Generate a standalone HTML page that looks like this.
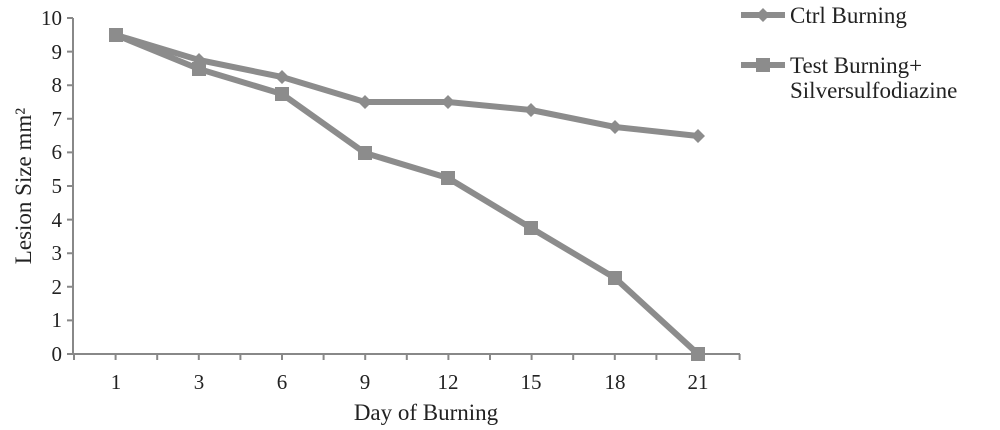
<!DOCTYPE html>
<html><head><style>body{margin:0;background:#fff}svg{display:block}</style></head><body>
<svg width="1000" height="430" xmlns="http://www.w3.org/2000/svg" font-family="Liberation Serif, serif" fill="#222">
<g stroke="#888" stroke-width="2">
<line x1="73" y1="18" x2="73" y2="354"/>
<line x1="73" y1="354" x2="740" y2="354"/>
<path d="M67 18H73M67 51.6H73M67 85.2H73M67 118.8H73M67 152.4H73M67 186H73M67 219.6H73M67 253.2H73M67 286.8H73M67 320.4H73M67 354H73"/>
<path d="M74 354V360M115.6 354V360M157.2 354V360M198.8 354V360M240.4 354V360M282 354V360M323.6 354V360M365.2 354V360M406.8 354V360M448.4 354V360M490 354V360M531.6 354V360M573.2 354V360M614.8 354V360M656.4 354V360M698 354V360M739.6 354V360"/>
</g>
<g font-size="21" text-anchor="end">
<text x="62" y="25">10</text><text x="62" y="59">9</text><text x="62" y="92">8</text><text x="62" y="126">7</text><text x="62" y="159">6</text><text x="62" y="193">5</text><text x="62" y="227">4</text><text x="62" y="260">3</text><text x="62" y="294">2</text><text x="62" y="327">1</text><text x="62" y="361">0</text>
</g>
<g font-size="21" text-anchor="middle">
<text x="116" y="389">1</text><text x="199" y="389">3</text><text x="282" y="389">6</text><text x="365" y="389">9</text><text x="448" y="389">12</text><text x="531" y="389">15</text><text x="615" y="389">18</text><text x="698" y="389">21</text>
<text x="426" y="420" font-size="23">Day of Burning</text>
<text transform="translate(31 186) rotate(-90)" font-size="23">Lesion Size mm²</text>
</g>
<g stroke="#8c8c8c" stroke-width="6" fill="none" stroke-linejoin="round">
<polyline points="116,35 199,60 282,77 365,102 448,102 531,110 615,127 698,136"/>
<polyline points="116,35 199,69 282,94 365,153 448,178 531,228 615,278 698,354"/>
<line x1="741" y1="15" x2="785" y2="15"/>
<line x1="741" y1="65" x2="785" y2="65"/>
</g>
<g fill="#8c8c8c">
<path d="M199 53l7 7-7 7-7-7zM282 70l7 7-7 7-7-7zM365 95l7 7-7 7-7-7zM448 95l7 7-7 7-7-7zM531 103l7 7-7 7-7-7zM615 120l7 7-7 7-7-7zM698 129l7 7-7 7-7-7zM763 8l7 7-7 7-7-7z"/>
<rect x="109" y="28" width="14" height="14"/><rect x="192" y="62" width="14" height="14"/><rect x="275" y="87" width="14" height="14"/><rect x="358" y="146" width="14" height="14"/><rect x="441" y="171" width="14" height="14"/><rect x="524" y="221" width="14" height="14"/><rect x="608" y="271" width="14" height="14"/><rect x="691" y="347" width="14" height="14"/><rect x="756" y="58" width="14" height="14"/>
</g>
<g font-size="23">
<text x="790" y="23">Ctrl Burning</text>
<text x="790" y="73">Test Burning+</text>
<text x="790" y="98">Silversulfodiazine</text>
</g>
</svg>
</body></html>
